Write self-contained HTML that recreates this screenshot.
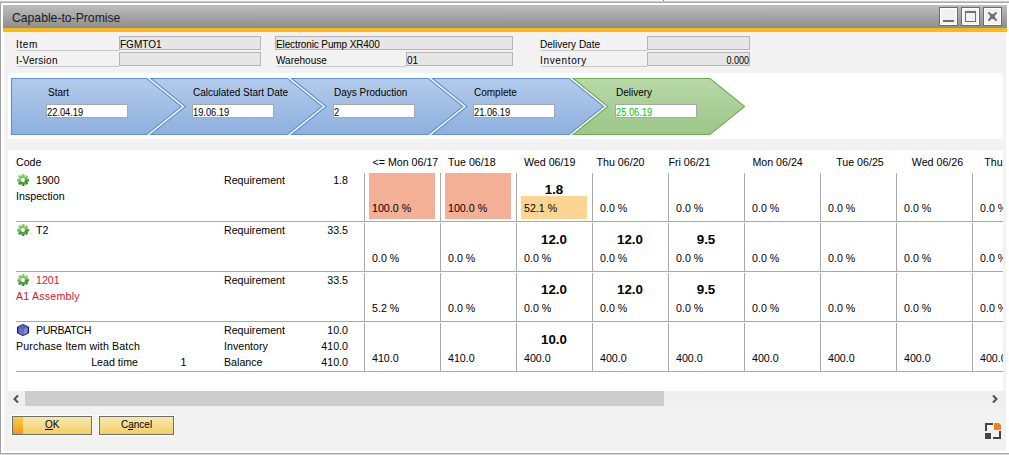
<!DOCTYPE html>
<html><head><meta charset="utf-8">
<style>
*{margin:0;padding:0;box-sizing:border-box}
html,body{width:1009px;height:455px;overflow:hidden;background:#fff;font-family:"Liberation Sans",sans-serif;color:#000}
.a{position:absolute}
.t{position:absolute;white-space:nowrap;line-height:1}
.hl{font-size:10px}
.fld{position:absolute;background:#e6e6e6;border:1px solid #b4b6b6;height:14px}
.ul{position:absolute;height:1px;background:#c6c6c6}
.tb{font-size:10.67px}
.bv{font-size:13.33px;font-weight:bold}
.vl{position:absolute;width:1px;background:#a9a9a9}
.hr{position:absolute;height:1px;background:#a9a9a9}
.inp{position:absolute;background:#fff;border:1px solid #a8a8a8;height:14px;width:82px}
.wb{position:absolute;top:7px;width:19px;height:19px;border:1px solid #6c6c6c;background:#f1f1f1;box-shadow:inset 0 0 0 1px #fff}
</style></head><body>
<!-- outer frame -->
<div class="a" style="left:0;top:1px;width:1009px;height:1px;background:#c9c9c9"></div>
<div class="a" style="left:0;top:2px;width:1009px;height:1px;background:#aaaaaa"></div>
<div class="a" style="left:0;top:2px;width:1px;height:452px;background:#a0a0a0"></div>
<div class="a" style="left:0;top:0;width:1009px;height:1px;background:#f7f7f7"></div>
<div class="a" style="left:0;top:453px;width:1009px;height:1px;background:#a6a6a6"></div>
<div class="a" style="left:0;top:454px;width:1009px;height:1px;background:#d9d9d9"></div>
<div class="a" style="left:663px;top:0;width:1px;height:1px;background:#777"></div>
<!-- title bar -->
<div class="a" style="left:3px;top:5px;width:1004px;height:23px;background:linear-gradient(#bebebe,#8d8d8d)"></div>
<div class="a" style="left:3px;top:27px;width:1004px;height:1px;background:#8a8e95"></div>
<div class="t" style="left:12px;top:12px;font-size:12.2px;color:#1a1a2a">Capable-to-Promise</div>
<div class="wb" style="left:939px"><div class="a" style="left:3px;top:12px;width:11px;height:2px;background:#707070"></div></div>
<div class="wb" style="left:961px"><div class="a" style="left:3px;top:3px;width:11px;height:11px;border:1px solid #707070;border-top-width:2px"></div></div>
<div class="wb" style="left:983px"><svg class="a" style="left:0;top:0" width="17" height="17" viewBox="0 0 17 17"><path d="M5 5L12 12M12 5L5 12" stroke="#707070" stroke-width="2" stroke-linecap="round"/><rect x="6" y="6" width="5" height="5" fill="#707070"/></svg></div>
<!-- orange band -->
<div class="a" style="left:3px;top:28px;width:1004px;height:4px;background:#fcb814"></div>
<!-- content background -->
<div class="a" style="left:4px;top:32px;width:1002px;height:419px;background:#f2f2f2"></div>

<!-- header fields -->
<div class="t hl" style="left:16px;top:40px;letter-spacing:0.6px">Item</div>
<div class="ul" style="left:17px;top:50px;width:102px"></div>
<div class="fld" style="left:119px;top:36px;width:142px"></div>
<div class="t hl" style="left:120px;top:40px">FGMTO1</div>
<div class="t hl" style="left:16px;top:56px;letter-spacing:0.25px">I-Version</div>
<div class="ul" style="left:17px;top:66px;width:102px"></div>
<div class="fld" style="left:119px;top:52px;width:142px"></div>

<div class="fld" style="left:275px;top:36px;width:238px"></div>
<div class="t hl" style="left:276px;top:40px;letter-spacing:-0.12px">Electronic Pump XR400</div>
<div class="t hl" style="left:276px;top:56px">Warehouse</div>
<div class="ul" style="left:277px;top:66px;width:129px"></div>
<div class="fld" style="left:406px;top:52px;width:107px"></div>
<div class="t hl" style="left:407px;top:56px">01</div>

<div class="t hl" style="left:540px;top:40px">Delivery Date</div>
<div class="ul" style="left:541px;top:50px;width:106px"></div>
<div class="fld" style="left:647px;top:36px;width:103px"></div>
<div class="t hl" style="left:540px;top:56px;letter-spacing:0.65px">Inventory</div>
<div class="ul" style="left:541px;top:66px;width:106px"></div>
<div class="fld" style="left:647px;top:52px;width:103px"></div>
<div class="t hl" style="left:647px;top:56px;width:102px;text-align:right;transform:scaleX(0.9);transform-origin:100% 0">0.000</div>

<!-- chevron panel -->
<div class="a" style="left:8px;top:73px;width:995px;height:66px;background:#fff"></div>
<svg class="a" style="left:0;top:0" width="1009" height="140">
<defs>
<linearGradient id="gb" x1="0" y1="0" x2="0" y2="1"><stop offset="0" stop-color="#b4cbea"/><stop offset="1" stop-color="#8db0df"/></linearGradient>
<linearGradient id="gg" x1="0" y1="0" x2="0" y2="1"><stop offset="0" stop-color="#b9d8a8"/><stop offset="1" stop-color="#9bc689"/></linearGradient>
</defs>
<polygon points="11.5,78.5 146.8,78.5 181.3,106.5 146.8,134.5 11.5,134.5" fill="url(#gb)" stroke="#5f95d5" stroke-width="1.2"/>
<polygon points="150.9,78.5 287.6,78.5 322.1,106.5 287.6,134.5 150.9,134.5 185.4,106.5" fill="url(#gb)" stroke="#5f95d5" stroke-width="1.2"/>
<polygon points="291.7,78.5 428.4,78.5 462.9,106.5 428.4,134.5 291.7,134.5 326.2,106.5" fill="url(#gb)" stroke="#5f95d5" stroke-width="1.2"/>
<polygon points="432.5,78.5 569.2,78.5 603.7,106.5 569.2,134.5 432.5,134.5 467.0,106.5" fill="url(#gb)" stroke="#5f95d5" stroke-width="1.2"/>
<polygon points="573.3,78.5 710.0,78.5 744.5,106.5 710.0,134.5 573.3,134.5 607.8,106.5" fill="url(#gg)" stroke="#74ae52" stroke-width="1.2"/>
</svg>
<div class="t hl" style="left:48px;top:87.5px">Start</div>
<div class="inp" style="left:46px;top:104px"></div>
<div class="t hl" style="left:47px;top:107.5px;transform:scaleX(0.93);transform-origin:0 0">22.04.19</div>
<div class="t hl" style="left:193px;top:87.5px">Calculated Start Date</div>
<div class="inp" style="left:192px;top:104px"></div>
<div class="t hl" style="left:193px;top:107.5px;transform:scaleX(0.93);transform-origin:0 0">19.06.19</div>
<div class="t hl" style="left:334px;top:87.5px">Days Production</div>
<div class="inp" style="left:333px;top:104px"></div>
<div class="t hl" style="left:334px;top:107.5px;transform:scaleX(0.93);transform-origin:0 0">2</div>
<div class="t hl" style="left:474px;top:87.5px">Complete</div>
<div class="inp" style="left:473px;top:104px"></div>
<div class="t hl" style="left:474px;top:107.5px;transform:scaleX(0.93);transform-origin:0 0">21.06.19</div>
<div class="t hl" style="left:616px;top:87.5px">Delivery</div>
<div class="inp" style="left:615px;top:104px"></div>
<div class="t hl" style="left:616px;top:107.5px;transform:scaleX(0.93);transform-origin:0 0;color:#00c800">25.06.19</div>

<!-- table panel -->
<div class="a" style="left:8px;top:150px;width:995px;height:241px;background:#fff;overflow:hidden" id="tbl">
<div class="t" style="top:6.97px;font-size:10.67px;left:8px;">Code</div>
<div class="t" style="top:6.97px;font-size:10.67px;left:364.5px;">&lt;= Mon 06/17</div>
<div class="t" style="top:6.97px;font-size:10.67px;left:440px;">Tue 06/18</div>
<div class="t" style="top:6.97px;font-size:10.67px;left:516px;">Wed 06/19</div>
<div class="t" style="top:6.97px;font-size:10.67px;left:588.5px;">Thu 06/20</div>
<div class="t" style="top:6.97px;font-size:10.67px;left:660.4px;">Fri 06/21</div>
<div class="t" style="top:6.97px;font-size:10.67px;left:744.4px;">Mon 06/24</div>
<div class="t" style="top:6.97px;font-size:10.67px;left:828.2px;">Tue 06/25</div>
<div class="t" style="top:6.97px;font-size:10.67px;left:903.8px;">Wed 06/26</div>
<div class="t" style="top:6.97px;font-size:10.67px;left:976.3px;">Thu 06/27</div>
<div class="vl" style="left:356px;top:23px;height:48px"></div>
<div class="vl" style="left:432px;top:23px;height:48px"></div>
<div class="vl" style="left:508px;top:23px;height:48px"></div>
<div class="vl" style="left:584px;top:23px;height:48px"></div>
<div class="vl" style="left:660px;top:23px;height:48px"></div>
<div class="vl" style="left:736px;top:23px;height:48px"></div>
<div class="vl" style="left:812px;top:23px;height:48px"></div>
<div class="vl" style="left:888px;top:23px;height:48px"></div>
<div class="vl" style="left:964px;top:23px;height:48px"></div>
<div class="hr" style="left:8px;top:71px;width:990px"></div>
<div class="a" style="left:361px;top:23px;width:66px;height:46px;background:#f3b096"></div>
<div class="a" style="left:437px;top:23px;width:66px;height:46px;background:#f3b096"></div>
<div class="a" style="left:513px;top:46px;width:66px;height:23px;background:#fdd592"></div>
<svg class="a" style="left:9px;top:24px" width="12" height="12" viewBox="0 0 12 12"><defs><linearGradient id="gr0" x1="0.2" y1="0.1" x2="0.8" y2="0.95"><stop offset="0" stop-color="#a6dc8a"/><stop offset="0.5" stop-color="#6cb552"/><stop offset="1" stop-color="#2e7e22"/></linearGradient></defs><g fill="url(#gr0)"><circle cx="6" cy="6" r="4.6"/><rect x="4.6" y="0" width="2.8" height="12" rx="0.6"/><rect x="0" y="4.6" width="12" height="2.8" rx="0.6"/><rect x="4.6" y="0" width="2.8" height="12" rx="0.6" transform="rotate(45 6 6)"/><rect x="4.6" y="0" width="2.8" height="12" rx="0.6" transform="rotate(-45 6 6)"/></g><circle cx="6" cy="6" r="1.9" fill="#fff"/></svg>
<div class="t" style="top:24.97px;font-size:10.67px;left:28px;">1900</div>
<div class="t" style="top:40.97px;font-size:10.67px;left:8px;">Inspection</div>
<div class="t" style="top:24.97px;font-size:10.67px;left:216px;">Requirement</div>
<div class="t" style="top:24.97px;font-size:10.67px;left:140px;width:200px;text-align:right;">1.8</div>
<div class="t" style="top:52.97px;font-size:10.67px;left:364px;">100.0 %</div>
<div class="t" style="top:52.97px;font-size:10.67px;left:440px;">100.0 %</div>
<div class="t" style="top:52.97px;font-size:10.67px;left:516px;">52.1 %</div>
<div class="t" style="top:32.72px;font-size:13.33px;left:496px;width:100px;text-align:center;font-weight:bold;">1.8</div>
<div class="t" style="top:52.97px;font-size:10.67px;left:592px;">0.0 %</div>
<div class="t" style="top:52.97px;font-size:10.67px;left:668px;">0.0 %</div>
<div class="t" style="top:52.97px;font-size:10.67px;left:744px;">0.0 %</div>
<div class="t" style="top:52.97px;font-size:10.67px;left:820px;">0.0 %</div>
<div class="t" style="top:52.97px;font-size:10.67px;left:896px;">0.0 %</div>
<div class="t" style="top:52.97px;font-size:10.67px;left:972px;">0.0 %</div>
<div class="vl" style="left:356px;top:73px;height:48px"></div>
<div class="vl" style="left:432px;top:73px;height:48px"></div>
<div class="vl" style="left:508px;top:73px;height:48px"></div>
<div class="vl" style="left:584px;top:73px;height:48px"></div>
<div class="vl" style="left:660px;top:73px;height:48px"></div>
<div class="vl" style="left:736px;top:73px;height:48px"></div>
<div class="vl" style="left:812px;top:73px;height:48px"></div>
<div class="vl" style="left:888px;top:73px;height:48px"></div>
<div class="vl" style="left:964px;top:73px;height:48px"></div>
<div class="hr" style="left:8px;top:121px;width:990px"></div>
<svg class="a" style="left:9px;top:74px" width="12" height="12" viewBox="0 0 12 12"><defs><linearGradient id="gr1" x1="0.2" y1="0.1" x2="0.8" y2="0.95"><stop offset="0" stop-color="#a6dc8a"/><stop offset="0.5" stop-color="#6cb552"/><stop offset="1" stop-color="#2e7e22"/></linearGradient></defs><g fill="url(#gr1)"><circle cx="6" cy="6" r="4.6"/><rect x="4.6" y="0" width="2.8" height="12" rx="0.6"/><rect x="0" y="4.6" width="12" height="2.8" rx="0.6"/><rect x="4.6" y="0" width="2.8" height="12" rx="0.6" transform="rotate(45 6 6)"/><rect x="4.6" y="0" width="2.8" height="12" rx="0.6" transform="rotate(-45 6 6)"/></g><circle cx="6" cy="6" r="1.9" fill="#fff"/></svg>
<div class="t" style="top:74.97px;font-size:10.67px;left:28px;">T2</div>
<div class="t" style="top:74.97px;font-size:10.67px;left:216px;">Requirement</div>
<div class="t" style="top:74.97px;font-size:10.67px;left:140px;width:200px;text-align:right;">33.5</div>
<div class="t" style="top:102.97px;font-size:10.67px;left:364px;">0.0 %</div>
<div class="t" style="top:102.97px;font-size:10.67px;left:440px;">0.0 %</div>
<div class="t" style="top:102.97px;font-size:10.67px;left:516px;">0.0 %</div>
<div class="t" style="top:82.72px;font-size:13.33px;left:496px;width:100px;text-align:center;font-weight:bold;">12.0</div>
<div class="t" style="top:102.97px;font-size:10.67px;left:592px;">0.0 %</div>
<div class="t" style="top:82.72px;font-size:13.33px;left:572px;width:100px;text-align:center;font-weight:bold;">12.0</div>
<div class="t" style="top:102.97px;font-size:10.67px;left:668px;">0.0 %</div>
<div class="t" style="top:82.72px;font-size:13.33px;left:648px;width:100px;text-align:center;font-weight:bold;">9.5</div>
<div class="t" style="top:102.97px;font-size:10.67px;left:744px;">0.0 %</div>
<div class="t" style="top:102.97px;font-size:10.67px;left:820px;">0.0 %</div>
<div class="t" style="top:102.97px;font-size:10.67px;left:896px;">0.0 %</div>
<div class="t" style="top:102.97px;font-size:10.67px;left:972px;">0.0 %</div>
<div class="vl" style="left:356px;top:123px;height:48px"></div>
<div class="vl" style="left:432px;top:123px;height:48px"></div>
<div class="vl" style="left:508px;top:123px;height:48px"></div>
<div class="vl" style="left:584px;top:123px;height:48px"></div>
<div class="vl" style="left:660px;top:123px;height:48px"></div>
<div class="vl" style="left:736px;top:123px;height:48px"></div>
<div class="vl" style="left:812px;top:123px;height:48px"></div>
<div class="vl" style="left:888px;top:123px;height:48px"></div>
<div class="vl" style="left:964px;top:123px;height:48px"></div>
<div class="hr" style="left:8px;top:171px;width:990px"></div>
<svg class="a" style="left:9px;top:124px" width="12" height="12" viewBox="0 0 12 12"><defs><linearGradient id="gr2" x1="0.2" y1="0.1" x2="0.8" y2="0.95"><stop offset="0" stop-color="#a6dc8a"/><stop offset="0.5" stop-color="#6cb552"/><stop offset="1" stop-color="#2e7e22"/></linearGradient></defs><g fill="url(#gr2)"><circle cx="6" cy="6" r="4.6"/><rect x="4.6" y="0" width="2.8" height="12" rx="0.6"/><rect x="0" y="4.6" width="12" height="2.8" rx="0.6"/><rect x="4.6" y="0" width="2.8" height="12" rx="0.6" transform="rotate(45 6 6)"/><rect x="4.6" y="0" width="2.8" height="12" rx="0.6" transform="rotate(-45 6 6)"/></g><circle cx="6" cy="6" r="1.9" fill="#fff"/></svg>
<div class="t" style="top:124.97px;font-size:10.67px;left:28px;color:#e0102e;">1201</div>
<div class="t" style="top:140.97px;font-size:10.67px;left:8px;color:#e0102e;letter-spacing:0.2px;">A1 Assembly</div>
<div class="t" style="top:124.97px;font-size:10.67px;left:216px;">Requirement</div>
<div class="t" style="top:124.97px;font-size:10.67px;left:140px;width:200px;text-align:right;">33.5</div>
<div class="t" style="top:152.97px;font-size:10.67px;left:364px;">5.2 %</div>
<div class="t" style="top:152.97px;font-size:10.67px;left:440px;">0.0 %</div>
<div class="t" style="top:152.97px;font-size:10.67px;left:516px;">0.0 %</div>
<div class="t" style="top:132.72px;font-size:13.33px;left:496px;width:100px;text-align:center;font-weight:bold;">12.0</div>
<div class="t" style="top:152.97px;font-size:10.67px;left:592px;">0.0 %</div>
<div class="t" style="top:132.72px;font-size:13.33px;left:572px;width:100px;text-align:center;font-weight:bold;">12.0</div>
<div class="t" style="top:152.97px;font-size:10.67px;left:668px;">0.0 %</div>
<div class="t" style="top:132.72px;font-size:13.33px;left:648px;width:100px;text-align:center;font-weight:bold;">9.5</div>
<div class="t" style="top:152.97px;font-size:10.67px;left:744px;">0.0 %</div>
<div class="t" style="top:152.97px;font-size:10.67px;left:820px;">0.0 %</div>
<div class="t" style="top:152.97px;font-size:10.67px;left:896px;">0.0 %</div>
<div class="t" style="top:152.97px;font-size:10.67px;left:972px;">0.0 %</div>
<div class="vl" style="left:356px;top:173px;height:48px"></div>
<div class="vl" style="left:432px;top:173px;height:48px"></div>
<div class="vl" style="left:508px;top:173px;height:48px"></div>
<div class="vl" style="left:584px;top:173px;height:48px"></div>
<div class="vl" style="left:660px;top:173px;height:48px"></div>
<div class="vl" style="left:736px;top:173px;height:48px"></div>
<div class="vl" style="left:812px;top:173px;height:48px"></div>
<div class="vl" style="left:888px;top:173px;height:48px"></div>
<div class="vl" style="left:964px;top:173px;height:48px"></div>
<div class="hr" style="left:8px;top:221px;width:990px"></div>
<svg class="a" style="left:9px;top:174px" width="12" height="12" viewBox="0 0 12 12"><polygon points="6,0 12,3 12,9 6,12 0,9 0,3" fill="#6c72c8"/><polygon points="6,0.3 11.6,3 6,5.6 0.4,3" fill="#5a62bc"/><polygon points="6.2,5.8 11,3.6 11,8.6 6.2,11" fill="#848ad6"/><polyline points="0.5,9 6,11.6 11.5,9" fill="none" stroke="#2c3296" stroke-width="1"/><polyline points="0.5,3 6,0.5 11.5,3" fill="none" stroke="#3a40a6" stroke-width="1"/><rect x="0" y="3" width="1.3" height="6" fill="#12127a"/><rect x="10.7" y="3" width="1.3" height="6" fill="#12127a"/><line x1="6" y1="5.8" x2="6" y2="11.5" stroke="#4a50b0" stroke-width="0.8"/></svg>
<div class="t" style="top:174.97px;font-size:10.67px;left:28px;letter-spacing:-0.35px;">PURBATCH</div>
<div class="t" style="top:190.97px;font-size:10.67px;left:8px;letter-spacing:0.13px;">Purchase Item with Batch</div>
<div class="t" style="top:174.97px;font-size:10.67px;left:216px;">Requirement</div>
<div class="t" style="top:174.97px;font-size:10.67px;left:140px;width:200px;text-align:right;">10.0</div>
<div class="t" style="top:190.97px;font-size:10.67px;left:216px;">Inventory</div>
<div class="t" style="top:190.97px;font-size:10.67px;left:140px;width:200px;text-align:right;">410.0</div>
<div class="t" style="top:206.97px;font-size:10.67px;left:216px;">Balance</div>
<div class="t" style="top:206.97px;font-size:10.67px;left:140px;width:200px;text-align:right;">410.0</div>
<div class="t" style="top:206.97px;font-size:10.67px;left:-70px;width:200px;text-align:right;">Lead time</div>
<div class="t" style="top:206.97px;font-size:10.67px;left:172.5px;">1</div>
<div class="t" style="top:202.97px;font-size:10.67px;left:364px;">410.0</div>
<div class="t" style="top:202.97px;font-size:10.67px;left:440px;">410.0</div>
<div class="t" style="top:202.97px;font-size:10.67px;left:516px;">400.0</div>
<div class="t" style="top:182.72px;font-size:13.33px;left:496px;width:100px;text-align:center;font-weight:bold;">10.0</div>
<div class="t" style="top:202.97px;font-size:10.67px;left:592px;">400.0</div>
<div class="t" style="top:202.97px;font-size:10.67px;left:668px;">400.0</div>
<div class="t" style="top:202.97px;font-size:10.67px;left:744px;">400.0</div>
<div class="t" style="top:202.97px;font-size:10.67px;left:820px;">400.0</div>
<div class="t" style="top:202.97px;font-size:10.67px;left:896px;">400.0</div>
<div class="t" style="top:202.97px;font-size:10.67px;left:972px;">400.0</div>
</div>
<!-- scrollbar -->
<div class="a" style="left:8px;top:391px;width:998px;height:16px;background:#efefef"></div>
<div class="a" style="left:25px;top:391px;width:639px;height:15px;background:#cdcdcd"></div>
<svg class="a" style="left:12px;top:394px" width="9" height="10" viewBox="0 0 9 10"><path d="M6 1.5L2.5 5L6 8.5" fill="none" stroke="#505050" stroke-width="2"/></svg>
<svg class="a" style="left:990px;top:394px" width="9" height="10" viewBox="0 0 9 10"><path d="M3 1.5L6.5 5L3 8.5" fill="none" stroke="#505050" stroke-width="2"/></svg>
<!-- buttons -->
<div class="a" style="left:11px;top:415px;width:82px;height:21px;border:1px solid #fff;border-right-color:#f8f8f8;border-bottom-color:#f8f8f8"></div>
<div class="a" style="left:12px;top:416px;width:80px;height:19px;border:1px solid #6e6e6e;background:linear-gradient(#f8e7b2,#f3cf62)"></div>
<div class="a" style="left:13px;top:417px;width:10px;height:17px;background:linear-gradient(#f9cd45,#f09a1e)"></div>
<div class="t" style="left:45px;top:420px;font-size:10px">OK</div>
<div class="a" style="left:45px;top:429px;width:8px;height:1px;background:#000"></div>
<div class="a" style="left:98px;top:415px;width:77px;height:21px;border:1px solid #fff"></div>
<div class="a" style="left:99px;top:416px;width:75px;height:19px;border:1px solid #6e6e6e;background:linear-gradient(#f8e7b2,#f3cf62)"></div>
<div class="t" style="left:121px;top:420px;font-size:10px">Cancel</div>
<div class="a" style="left:128px;top:429px;width:5px;height:1px;background:#000"></div>
<!-- corner icon -->
<svg class="a" style="left:985px;top:423px" width="16" height="16" viewBox="0 0 16 16">
<path d="M0 0H8V2H2V8H0Z" fill="#444"/>
<path d="M9 0H12.5A3.5 3.5 0 0 1 16 3.5V7H9Z" fill="#f47d20"/>
<rect x="0" y="10" width="6" height="6" fill="#444"/>
<path d="M14 8H16V16H8V14H14Z" fill="#444"/>
</svg>
</body></html>
